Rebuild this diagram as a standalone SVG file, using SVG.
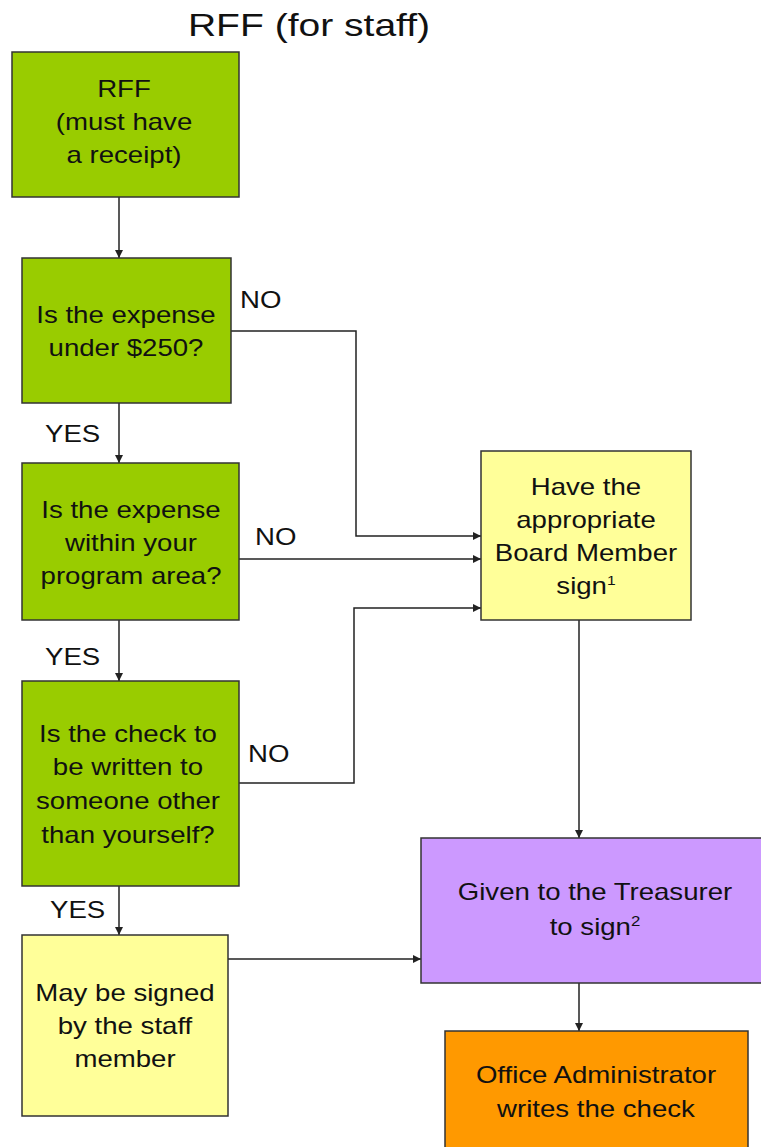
<svg xmlns="http://www.w3.org/2000/svg" width="761" height="1147" viewBox="0 0 761 1147">
<style>
.box{stroke:#333;stroke-width:1.5}
.g{fill:#99cc00}.y{fill:#ffff99}.p{fill:#cc99ff}.o{fill:#ff9900}
text{font-family:"Liberation Sans",Arial,sans-serif;font-size:23px;fill:#111}
.c{text-anchor:middle}
.ln{fill:none;stroke:#222;stroke-width:1.5}
</style>
<defs>
<marker id="ah" viewBox="0 0 10 10" refX="10" refY="5" markerWidth="8" markerHeight="8" markerUnits="userSpaceOnUse" orient="auto">
<path d="M0,0 L10,5 L0,10 z" fill="#222"/>
</marker>
</defs>
<rect width="761" height="1147" fill="#fff"/>
<g id="title" transform="translate(309,0) scale(1.22,1)"><text class="c" y="36" style="font-size:32px">RFF (for staff)</text></g>

<g id="connectors">
<path class="ln" d="M119,197 V258" marker-end="url(#ah)"/>
<path class="ln" d="M119,403 V463" marker-end="url(#ah)"/>
<path class="ln" d="M119,620 V681" marker-end="url(#ah)"/>
<path class="ln" d="M119,886 V935" marker-end="url(#ah)"/>
<path class="ln" d="M231,331 H356 V536 H481" marker-end="url(#ah)"/>
<path class="ln" d="M239,559 H481" marker-end="url(#ah)"/>
<path class="ln" d="M239,783 H354 V608 H481" marker-end="url(#ah)"/>
<path class="ln" d="M579,620 V838" marker-end="url(#ah)"/>
<path class="ln" d="M228,959 H421" marker-end="url(#ah)"/>
<path class="ln" d="M579,983 V1031" marker-end="url(#ah)"/>
<g transform="translate(240,0) scale(1.2,1)"><text y="308">NO</text></g>
<g transform="translate(255,0) scale(1.2,1)"><text y="545">NO</text></g>
<g transform="translate(248,0) scale(1.2,1)"><text y="762">NO</text></g>
<g transform="translate(45,0) scale(1.2,1)"><text y="442">YES</text></g>
<g transform="translate(45,0) scale(1.2,1)"><text y="665">YES</text></g>
<g transform="translate(50,0) scale(1.2,1)"><text y="918">YES</text></g>
</g>

<g id="n1">
<rect class="box g" x="12" y="52" width="227" height="145"/>
<g transform="translate(124,0) scale(1.2,1)"><text class="c"><tspan x="0" y="97">RFF</tspan><tspan x="0" y="130">(must have</tspan><tspan x="0" y="163">a receipt)</tspan></text></g>
</g>
<g id="n2">
<rect class="box g" x="22" y="258" width="209" height="145"/>
<g transform="translate(126,0) scale(1.2,1)"><text class="c"><tspan x="0" y="323">Is the expense</tspan><tspan x="0" y="356">under $250?</tspan></text></g>
</g>
<g id="n3">
<rect class="box g" x="22" y="463" width="217" height="157"/>
<g transform="translate(131,0) scale(1.2,1)"><text class="c"><tspan x="0" y="518">Is the expense</tspan><tspan x="0" y="551">within your</tspan><tspan x="0" y="584">program area?</tspan></text></g>
</g>
<g id="n4">
<rect class="box g" x="22" y="681" width="217" height="205"/>
<g transform="translate(128,0) scale(1.2,1)"><text class="c"><tspan x="0" y="742">Is the check to</tspan><tspan x="0" y="775">be written to</tspan><tspan x="0" y="809">someone other</tspan><tspan x="0" y="843">than yourself?</tspan></text></g>
</g>
<g id="n5">
<rect class="box y" x="22" y="935" width="206" height="181"/>
<g transform="translate(125,0) scale(1.2,1)"><text class="c"><tspan x="0" y="1001">May be signed</tspan><tspan x="0" y="1034">by the staff</tspan><tspan x="0" y="1067">member</tspan></text></g>
</g>
<g id="n6">
<rect class="box y" x="481" y="451" width="210" height="169"/>
<g transform="translate(586,0) scale(1.2,1)"><text class="c"><tspan x="0" y="495">Have the</tspan><tspan x="0" y="528">appropriate</tspan><tspan x="0" y="561">Board Member</tspan><tspan x="0" y="594">sign<tspan style="font-size:13px" dy="-9">1</tspan></tspan></text></g>
</g>
<g id="n7">
<rect class="box p" x="421" y="838" width="345" height="145"/>
<g transform="translate(595,0) scale(1.2,1)"><text class="c"><tspan x="0" y="900">Given to the Treasurer</tspan><tspan x="0" y="935">to sign<tspan style="font-size:14px" dy="-9">2</tspan></tspan></text></g>
</g>
<g id="n8">
<rect class="box o" x="445" y="1031" width="303" height="130"/>
<g transform="translate(596,0) scale(1.2,1)"><text class="c"><tspan x="0" y="1083">Office Administrator</tspan><tspan x="0" y="1117">writes the check</tspan></text></g>
</g>
</svg>
